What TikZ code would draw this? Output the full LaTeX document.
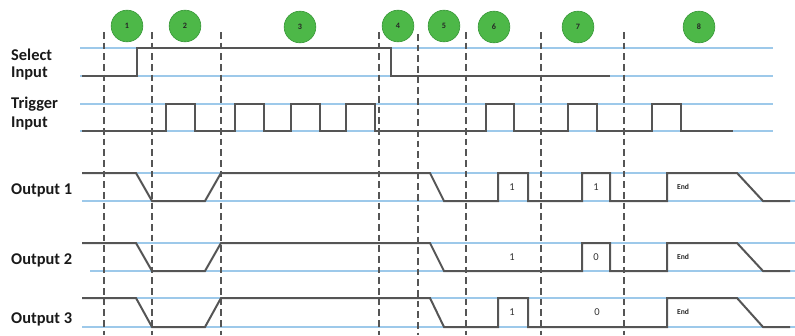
\documentclass[tikz,border=0pt]{standalone}
\usepackage{fontspec}
\setmainfont{Carlito}
\definecolor{railblue}{HTML}{9DC9EA}
\definecolor{wavegray}{HTML}{555555}
\definecolor{badgegreen}{HTML}{4DB848}
\definecolor{badgeedge}{HTML}{3A9A3A}
\begin{document}
\begin{tikzpicture}[x=0.03cm, y=-0.03cm,
    rail/.style={railblue, line width=0.04cm},
    wave/.style={wavegray, line width=0.06cm, line join=miter},
    phase/.style={wavegray, line width=0.045cm, dash pattern=on 0.2cm off 0.12cm},
    badge/.style={circle, fill=badgegreen, draw=badgeedge, line width=0.02cm, minimum size=0.95cm, inner sep=0pt, font=\fontsize{7}{8}\selectfont\bfseries, text=black!85},
    rowlabel/.style={anchor=west, inner sep=0pt, font=\fontsize{14}{16}\selectfont\bfseries, text=black!90},
    bitlabel/.style={inner sep=0pt, font=\fontsize{9}{10}\selectfont, text=black!80},
    endlabel/.style={inner sep=0pt, font=\fontsize{6.5}{8}\selectfont\bfseries, text=black!85}]
            \useasboundingbox (0,0) rectangle (795,335);
            
            % Drawing rails of Select Input and Trigger Input
            \draw [rail] (80,48) -- (773,48);%
            \draw [rail] (80,76) -- (773,76);%
            \draw [rail] (80,104) -- (773,104);%
            \draw [rail] (80,131) -- (773,131);%
            
            % Drawing rails of the outputs
            \draw [rail] (82,173) -- (795,173);%
            \draw [rail] (82,201) -- (795,201);%
            \draw [rail] (82,243) -- (795,243);%
            \draw [rail] (90,271) -- (795,271);%
            \draw [rail] (82,298) -- (795,298);%
            \draw [rail] (82,327) -- (795,327);%
            
            % Drawing phase borders
            \draw [phase] (104,32) -- (104,335);%
            \draw [phase] (152,32) -- (152,335);%
            \draw [phase] (221,32) -- (221,335);%
            \draw [phase] (379,32) -- (379,335);%
            \draw [phase] (418,34) -- (418,335);%
            \draw [phase] (466,32) -- (466,335);%
            \draw [phase] (541,32) -- (541,335);%
            \draw [phase] (624,32) -- (624,335);%
            
            % Drawing signal Select Input
            \draw [wave] (82,76) -- (137,76) -- (137,48) -- (391,48) -- (391,76) -- (610,76);%
            
            % Drawing signal Trigger Input
            \draw [wave] (82,131) -- (166,131) -- (166,104) -- (195,104) -- (195,131)
                -- (235,131) -- (235,104) -- (264,104) -- (264,131)
                -- (291,131) -- (291,104) -- (320,104) -- (320,131)
                -- (346,131) -- (346,104) -- (375,104) -- (375,131)
                -- (486,131) -- (486,104) -- (514,104) -- (514,131)
                -- (568,131) -- (568,104) -- (597,104) -- (597,131)
                -- (652,131) -- (652,104) -- (681,104) -- (681,131) -- (733,131);%
            
            % Drawing signal Output 1
            \draw [wave] (82,173) -- (136,173) -- (152,201) -- (205,201) -- (221,173)
                -- (430,173) -- (444,201) -- (498,201) -- (498,173) -- (528,173) -- (528,201)
                -- (582,201) -- (582,173) -- (610,173) -- (610,201)
                -- (667,201) -- (667,173) -- (737,173) -- (763,201) -- (790,201);%
            
            % Drawing signal Output 2
            \draw [wave] (82,243) -- (136,243) -- (152,271) -- (205,271) -- (221,243)
                -- (430,243) -- (444,271) -- (582,271) -- (582,243) -- (610,243) -- (610,271)
                -- (667,271) -- (667,243) -- (737,243) -- (763,271) -- (790,271);%
            
            % Drawing signal Output 3
            \draw [wave] (82,298) -- (136,298) -- (152,327) -- (205,327) -- (221,298)
                -- (430,298) -- (444,327) -- (498,327) -- (498,298) -- (528,298) -- (528,327)
                -- (667,327) -- (667,298) -- (737,298) -- (763,327) -- (790,327);%
            
            % Marking bits carried by the outputs
            \node [bitlabel] (bitAa) at (512,187) {1};%
            \node [bitlabel] (bitAb) at (596,187) {1};%
            \node [endlabel] (endA) at (683,187) {End};%
            \node [bitlabel] (bitBa) at (512,257) {1};%
            \node [bitlabel] (bitBb) at (596,257) {0};%
            \node [endlabel] (endB) at (683,257) {End};%
            \node [bitlabel] (bitCa) at (512,312) {1};%
            \node [bitlabel] (bitCb) at (597,312) {0};%
            \node [endlabel] (endC) at (683,312) {End};%
            
            % Marking row names
            \node [rowlabel] (selA) at (11,55) {Select};%
            \node [rowlabel] (selB) at (11,73) {Input};%
            \node [rowlabel] (trgA) at (11,104) {Trigger};%
            \node [rowlabel] (trgB) at (11,123) {Input};%
            \node [rowlabel] (outA) at (11,190) {Output 1};%
            \node [rowlabel] (outB) at (11,260) {Output 2};%
            \node [rowlabel] (outC) at (11,319) {Output 3};%
            
            % Marking phases by green circles
            \node [badge] (ph1) at (127,26) {1};%
            \node [badge] (ph2) at (185,26) {2};%
            \node [badge] (ph3) at (300,27) {3};%
            \node [badge] (ph4) at (398,26) {4};%
            \node [badge] (ph5) at (444,26) {5};%
            \node [badge] (ph6) at (494,27) {6};%
            \node [badge] (ph7) at (578,27) {7};%
            \node [badge] (ph8) at (699,27) {8};%
\end{tikzpicture}
\end{document}
